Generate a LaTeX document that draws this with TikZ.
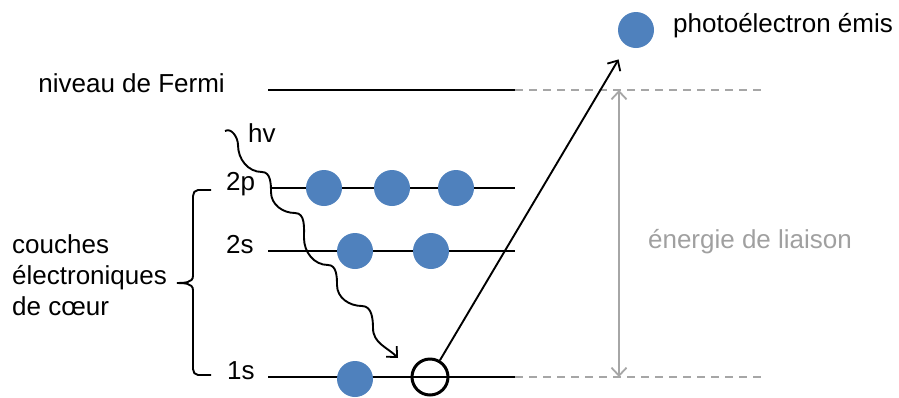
\documentclass[tikz,border=0pt]{standalone}
\usepackage{fontspec}
\setmainfont{Liberation Sans}
\usetikzlibrary{arrows.meta}
\definecolor{eblue}{HTML}{4F81BD}
\definecolor{lgray}{HTML}{A6A6A6}
\definecolor{tgray}{HTML}{A0A0A0}
\begin{document}
\begin{tikzpicture}[x=1pt,y=1pt,
  lbl/.style={inner sep=0pt, font=\fontsize{26}{31}\selectfont},
  elec/.style={circle, fill=eblue, minimum size=36pt, inner sep=0pt},
  lvl/.style={line width=1.9pt},
  ext/.style={draw=lgray, line width=1.8pt, dash pattern=on 8pt off 6pt},
  tipb/.style={-{Straight Barb[length=8pt,width=15pt,line width=1.8pt]}},
  ]
\useasboundingbox (0,0) rectangle (899,-397);

% level coordinates
\coordinate (F0) at (268,-90);  \coordinate (F1) at (515,-90);  \coordinate (F2) at (762,-90);
\coordinate (P0) at (270,-188); \coordinate (P1) at (515,-188);
\coordinate (S0) at (268,-251); \coordinate (S1) at (515,-251);
\coordinate (K0) at (268,-377); \coordinate (K1) at (515,-377); \coordinate (K2) at (762,-377);

\draw[lvl] (F0) -- (F1);
\draw[ext] (F1) -- (F2);
\draw[lvl] (P0) -- (P1);
\draw[lvl] (S0) -- (S1);
\draw[lvl] (K0) -- (K1);
\draw[ext] (K1) -- (K2);

% labels
\node[lbl, anchor=mid east] (fermi) at (225,-90) {niveau de Fermi};
\node[lbl, anchor=mid west] (l2p) at (226,-188) {2p};
\node[lbl, anchor=mid west] (l2s) at (226,-251) {2s};
\node[lbl, anchor=mid west] (l1s) at (227,-377) {1s};
\node[lbl, anchor=mid west] (hv) at (248,-140) {hv};
\node[lbl, anchor=west, align=left] (core) at (12,-275) {couches\\électroniques\\de cœur};

% brace
\draw[lvl] (211,-190) -- (198,-190) to[out=180,in=90] (193,-196) -- (193,-276)
  to[out=-90,in=0] (177,-283) coordinate (btip)
  (btip) to[out=0,in=90] (193,-290) -- (193,-369) to[out=-90,in=180] (198,-375) -- (211,-375);

% electrons
\node[elec] (e1) at (324,-188) {};
\node[elec] (e2) at (392,-188) {};
\node[elec] (e3) at (456,-188) {};
\node[elec] (e4) at (355,-251) {};
\node[elec] (e5) at (431,-251) {};
\node[elec] (e6) at (355,-379) {};
\node[circle, draw, line width=3pt, minimum size=36pt, inner sep=0pt] (hole) at (430,-377) {};

% photoelectron
\node[elec] (photo) at (636,-30) {};
\node[lbl, anchor=mid west] (ptext) at (673,-30) {photoélectron émis};

% photon wavy arrow
\coordinate (w0) at (225,-131);
\coordinate (wend) at (398,-358);
\draw[lvl, tipb] (w0) to[out=30,in=90] (238,-145) to[out=-90,in=180] (262,-172)
  to[out=0,in=90] (271,-192) to[out=-90,in=180] (295,-213)
  to[out=0,in=90] (304,-238) to[out=-90,in=180] (328,-265)
  to[out=0,in=90] (337,-285) to[out=-90,in=180] (362,-306)
  to[out=0,in=90] (373,-328) to[out=-90,in=135] (wend);

% emission arrow
\draw[lvl, tipb, shorten >=16pt] (hole) -- (photo);

% binding energy
\coordinate (EA) at (619,-90);
\coordinate (EB) at (619,-377);
\draw[lgray, line width=1.8pt, {Straight Barb[length=8pt,width=15pt,line width=1.8pt]}-{Straight Barb[length=8pt,width=15pt,line width=1.8pt]}] (EA) -- (EB);
\node[lbl, text=tgray] (bind) at (750,-242) {énergie de liaison};
\end{tikzpicture}
\end{document}
